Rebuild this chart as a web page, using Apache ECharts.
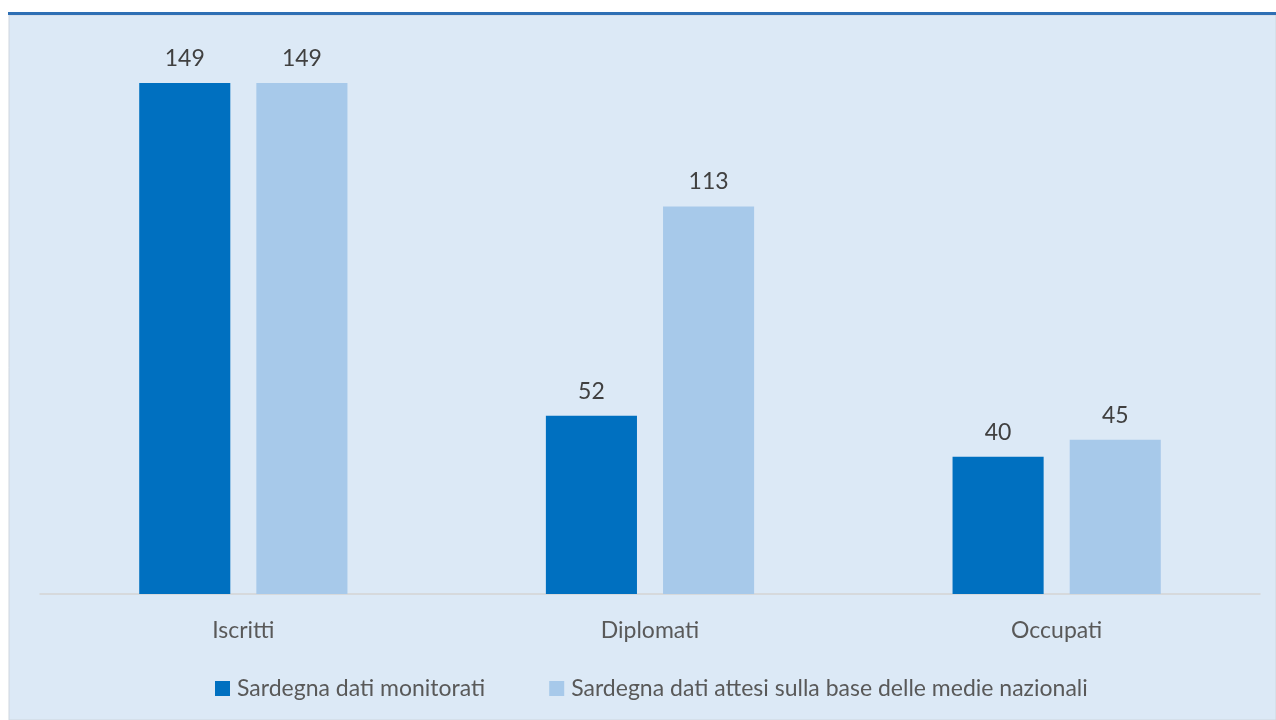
<!DOCTYPE html>
<html><head><meta charset="utf-8">
<script src="https://cdn.jsdelivr.net/npm/echarts@6/dist/echarts.min.js"></script>
<style>html,body{margin:0;padding:0;background:#fff}#c{width:1276px;height:720px}</style>
</head><body><div id="c"></div>
<script>
const categories = ['Iscritti', 'Diplomati', 'Occupati'];
const seriesNames = ['Sardegna dati monitorati', 'Sardegna dati attesi sulla base delle medie nazionali'];
const monitorati = [149, 52, 40];
const attesi = [149, 113, 45];

const FONT = 'Lato';
const chart = echarts.init(document.getElementById('c'));
const labelStyle = {show: true, position: 'top', distance: 13, color: '#404040', fontSize: 23, fontFamily: FONT};
chart.setOption({
  animation: false,
  backgroundColor: '#ffffff',
  graphic: [
    {type: 'rect', shape: {x: 9, y: 15, width: 1267, height: 705}, style: {fill: '#dce9f6', stroke: '#cfd6de', lineWidth: 1}, z: -10},
    {type: 'rect', shape: {x: 8, y: 12, width: 1268, height: 3}, style: {fill: '#2e6fb4'}, z: -9}
  ],
  grid: {left: 40, right: 16, top: 45.3, bottom: 126, containLabel: false},
  legend: {
    data: seriesNames, left: 210, top: 672, itemWidth: 15, itemHeight: 15, itemGap: 64,
    icon: 'rect',
    textStyle: {color: '#595959', fontSize: 23, fontFamily: FONT, padding: [0, 0, 0, 2]}
  },
  xAxis: {
    type: 'category', data: categories,
    axisLine: {lineStyle: {color: '#d4d4d4', width: 1.5}},
    axisTick: {show: false},
    axisLabel: {color: '#595959', fontSize: 23, fontFamily: FONT, margin: 25}
  },
  yAxis: {type: 'value', min: 0, max: 160, show: false, splitLine: {show: false}},
  series: [
    {name: seriesNames[0], type: 'bar', data: monitorati, barWidth: '22.4%', barGap: '28.6%',
     itemStyle: {color: '#0070c0'}, label: labelStyle},
    {name: seriesNames[1], type: 'bar', data: attesi, barWidth: '22.4%',
     itemStyle: {color: '#a7c9ea'}, label: labelStyle}
  ]
});
</script></body></html>
